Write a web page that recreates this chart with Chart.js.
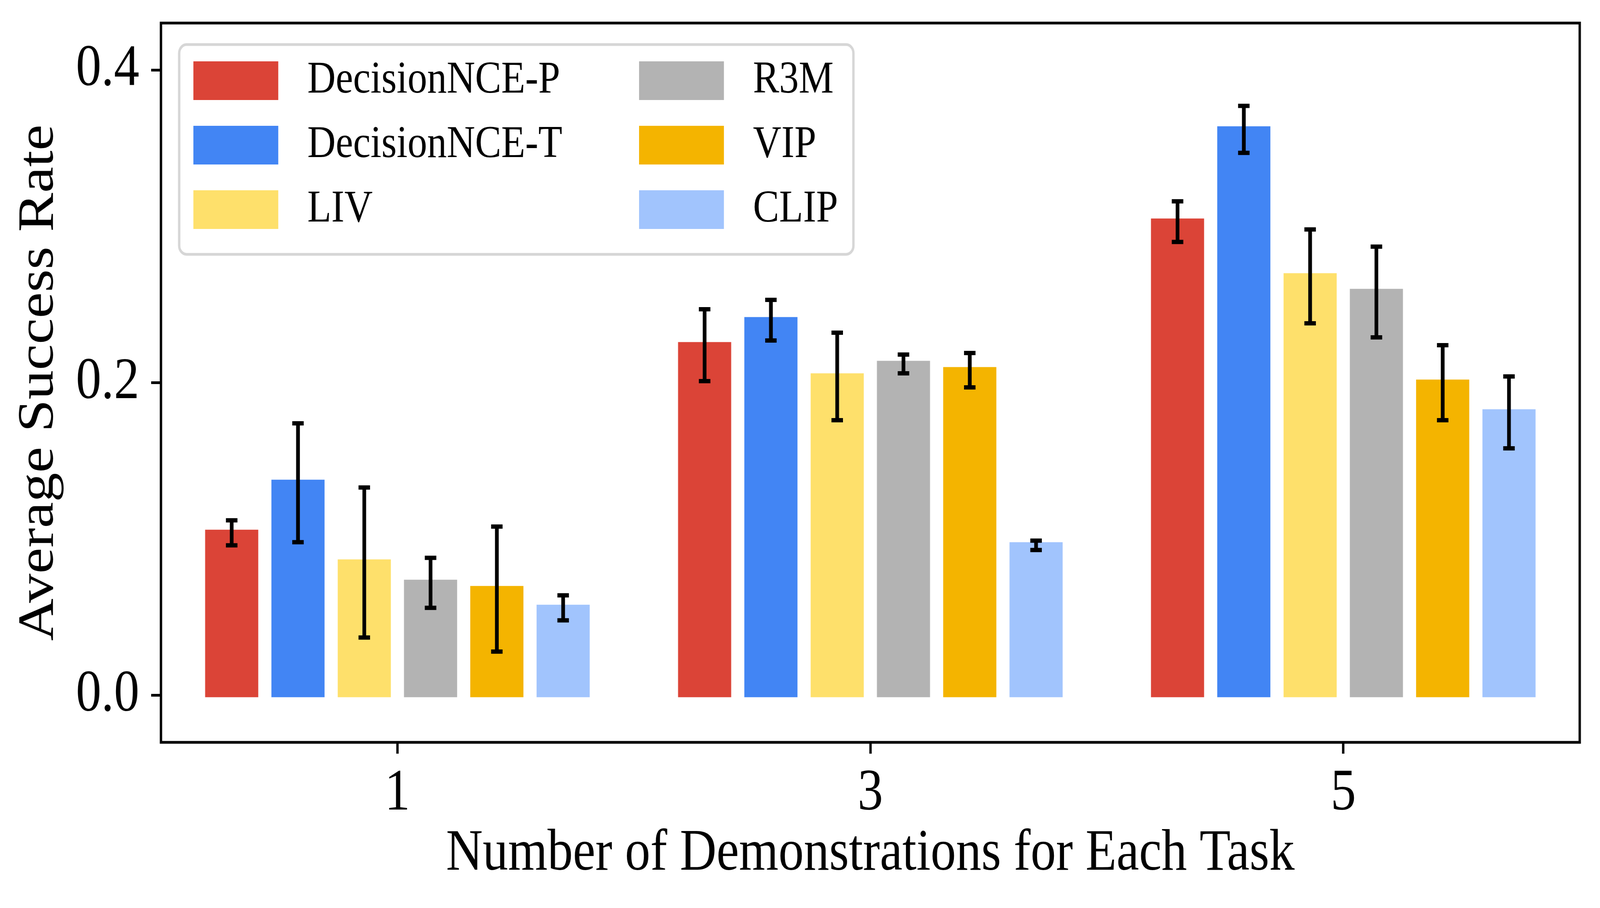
<!DOCTYPE html>
<html>
<head>
<meta charset="utf-8">
<script src="https://cdn.jsdelivr.net/npm/chart.js@4"></script>
<style>
  html, body { margin: 0; padding: 0; background: #fff; overflow: hidden; }
  #stage { display: block; }
</style>
</head>
<body>
<canvas id="stage" width="4732" height="2324"></canvas>
<script>
// number of demonstrations per task
var categories = ['1', '3', '5'];
var methods = ['DecisionNCE-P', 'DecisionNCE-T', 'LIV', 'R3M', 'VIP', 'CLIP'];
var colors = ['#DB4437', '#4285F4', '#FEE06B', '#B3B3B3', '#F4B400', '#A1C4FD'];

// mean success rate and error (half length of the bar) per method
var decisionP    = [0.104, 0.224, 0.303];
var decisionPErr = [0.008, 0.023, 0.013];
var decisionT    = [0.136, 0.240, 0.362];
var decisionTErr = [0.038, 0.013, 0.015];
var liv          = [0.085, 0.204, 0.268];
var livErr       = [0.048, 0.028, 0.030];
var r3m          = [0.072, 0.212, 0.258];
var r3mErr       = [0.016, 0.006, 0.029];
var vip          = [0.068, 0.208, 0.200];
var vipErr       = [0.040, 0.011, 0.024];
var clip         = [0.056, 0.096, 0.181];
var clipErr      = [0.008, 0.003, 0.023];

var yTicks = [0, 0.2, 0.4];

var values = [decisionP, decisionT, liv, r3m, vip, clip];
var errors = [decisionPErr, decisionTErr, livErr, r3mErr, vipErr, clipErr];

var serif = '"Liberation Serif", "Times New Roman", serif';

// the window is smaller than 4732 wide: draw at 4732x2324 and fit it to the viewport
var stage = document.getElementById('stage');
stage.style.width = window.innerWidth + 'px';
stage.style.height = window.innerHeight + 'px';

var datasets = methods.map(function (name, i) {
  return {
    label: name,
    data: values[i],
    backgroundColor: colors[i],
    borderWidth: 0,
    inflateAmount: 8,
    barPercentage: 0.72,
    categoryPercentage: 0.841
  };
});

// error bars drawn through the y scale
var errorBars = {
  id: 'errorBars',
  afterDatasetsDraw: function (chart) {
    var ctx = chart.ctx, y = chart.scales.y;
    ctx.save();
    ctx.strokeStyle = '#000';
    ctx.lineWidth = 11;
    chart.data.datasets.forEach(function (ds, i) {
      var meta = chart.getDatasetMeta(i);
      meta.data.forEach(function (bar, j) {
        var v = ds.data[j], e = errors[i][j];
        var top = y.getPixelForValue(v + e), bot = y.getPixelForValue(v - e);
        ctx.beginPath();
        ctx.moveTo(bar.x, top); ctx.lineTo(bar.x, bot);
        ctx.moveTo(bar.x - 17, top); ctx.lineTo(bar.x + 17, top);
        ctx.moveTo(bar.x - 17, bot); ctx.lineTo(bar.x + 17, bot);
        ctx.stroke();
      });
    });
    ctx.restore();
  }
};

// box around the plot area
var frame = {
  id: 'frame',
  afterDatasetsDraw: function (chart) {
    var a = chart.chartArea, ctx = chart.ctx;
    ctx.save();
    ctx.strokeStyle = '#000';
    ctx.lineWidth = 7;
    ctx.strokeRect(a.left, a.top, a.right - a.left, a.bottom - a.top);
    ctx.restore();
  }
};

// two column legend inside the plot, like matplotlib
var legendBox = {
  id: 'legendBox',
  afterDraw: function (chart) {
    var ctx = chart.ctx, a = chart.chartArea;
    var x0 = a.left + 54, y0 = a.top + 55;
    ctx.save();
    ctx.fillStyle = 'rgba(255,255,255,0.8)';
    ctx.strokeStyle = '#d6d6d6';
    ctx.lineWidth = 7;
    ctx.beginPath();
    ctx.roundRect(x0, y0, 1994, 537, 22);
    ctx.fill();
    ctx.stroke();
    ctx.font = '116px ' + serif;
    ctx.textBaseline = 'middle';
    ctx.textAlign = 'left';
    chart.data.datasets.forEach(function (ds, i) {
      var col = Math.floor(i / 3), row = i % 3;
      var px = x0 + 42 + col * 1318, py = y0 + 43 + row * 165;
      ctx.fillStyle = ds.backgroundColor;
      ctx.fillRect(px, py, 251, 99);
      ctx.fillStyle = '#000';
      ctx.fillText(ds.label, px + 337, py + 50);
    });
    ctx.restore();
  }
};

var tickGrid = {
  display: true,
  offset: false,
  drawOnChartArea: false,
  drawTicks: true,
  tickLength: 29,
  lineWidth: 7,
  tickWidth: 7,
  color: '#000',
  tickColor: '#000'
};

var myChart = new Chart(stage.getContext('2d'), {
  type: 'bar',
  data: { labels: categories, datasets: datasets },
  plugins: [errorBars, frame, legendBox],
  options: {
    responsive: false,
    devicePixelRatio: 1,
    animation: false,
    layout: { padding: { top: 59, right: 60, bottom: 0, left: 0 } },
    plugins: { legend: { display: false }, tooltip: { enabled: false } },
    scales: {
      x: {
        offset: true,
        grid: tickGrid,
        border: { display: false },
        ticks: { color: '#000', font: { family: serif, size: 150 }, padding: 14, maxRotation: 0, autoSkip: false },
        title: {
          display: true, text: 'Number of Demonstrations for Each Task', color: '#000',
          font: { family: serif, size: 150 }, padding: { top: 0, bottom: 47 }
        },
        afterFit: function (s) { s.height = 424; s.paddingLeft = 0; s.paddingRight = 0; }
      },
      y: {
        min: -0.03,
        max: 0.43,
        afterBuildTicks: function (s) { s.ticks = yTicks.map(function (v) { return { value: v }; }); },
        grid: tickGrid,
        border: { display: false },
        ticks: {
          color: '#000', font: { family: serif, size: 150 }, padding: 35,
          callback: function (v) { return Number(v).toFixed(1); }
        },
        title: {
          display: true, text: 'Average Success Rate', color: '#000',
          font: { family: serif, size: 150 }, padding: { top: 27, bottom: 0 }
        },
        afterFit: function (s) { s.width = 476; s.paddingTop = 0; s.paddingBottom = 0; }
      }
    }
  }
});
</script>
</body>
</html>
